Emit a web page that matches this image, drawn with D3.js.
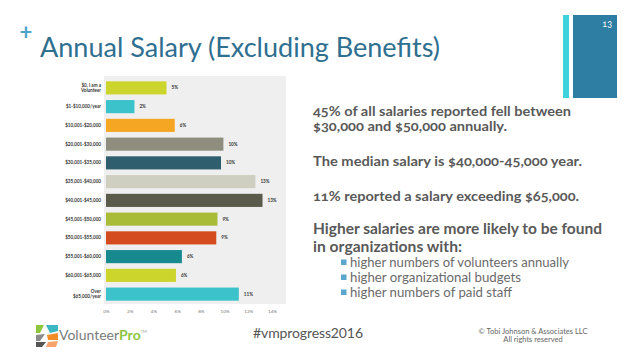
<!DOCTYPE html>
<html>
<head>
<meta charset="utf-8">
<script src="https://cdn.jsdelivr.net/npm/d3@7/dist/d3.min.js"></script>
<style>
  body { margin: 0; background: #fff; }
  svg { display: block; font-family: Lato, "Open Sans", sans-serif; }
  .onum { font-variant-numeric: oldstyle-nums; }
</style>
</head>
<body>
<div id="slide"></div>
<script>
// salary bands, top to bottom
var categories = [
  ["$0, I am a", "Volunteer"],
  ["$1-$10,000/year"],
  ["$10,001-$20,000"],
  ["$20,001-$30,000"],
  ["$30,001-$35,000"],
  ["$35,001-$40,000"],
  ["$40,001-$45,000"],
  ["$45,001-$50,000"],
  ["$50,001-$55,000"],
  ["$55,001-$60,000"],
  ["$60,001-$65,000"],
  ["Over", "$65,000/year"]
];
// percent of respondents
var shares = [5.1, 2.4, 5.8, 9.9, 9.7, 12.6, 13.2, 9.4, 9.3, 6.4, 5.9, 11.2];
var barColors = ["#ccd52c", "#3cc2ca", "#f5a623", "#8e8d7e", "#2f5f6e", "#cfcfc1",
                 "#5b5b4b", "#a8bc37", "#d44b1f", "#178a90", "#ccd52c", "#3cc2ca"];
var tickValues = [0, 2, 4, 6, 8, 10, 12, 14];

var title = "Annual Salary (Excluding Benefits)";
var notes = [
  "45% of all salaries reported fell between",
  "$30,000 and $50,000 annually.",
  "The median salary is $40,000-45,000 year.",
  "11% reported a salary exceeding $65,000."
];
var findings = ["Higher salaries are more likely to be found", "in organizations with:"];
var bullets = ["higher numbers of volunteers annually", "higher organizational budgets", "higher numbers of paid staff"];

// text layout (baseline y and measured width in the slide)
var noteY = [116, 131, 166, 201], noteW = [258, 194, 269, 266];
var findY = [233.5, 251.5], findW = [289, 149];
var bulletY = [267, 282, 297], bulletW = [219, 171, 162];

var W = 638, H = 359;
var svg = d3.select("#slide").append("svg")
  .attr("width", W)
  .attr("height", H);

svg.append("rect").attr("width", W).attr("height", H).attr("fill", "#fff");

// header
svg.append("text")
  .attr("x", 26).attr("y", 40)
  .attr("text-anchor", "middle")
  .attr("font-size", 22).attr("font-weight", 700)
  .attr("fill", "#4da3cc")
  .text("+");

svg.append("text")
  .attr("x", 40).attr("y", 57)
  .attr("font-size", 26)
  .attr("fill", "#2f6f90")
  .attr("textLength", 400).attr("lengthAdjust", "spacingAndGlyphs")
  .text(title);

svg.append("rect").attr("x", 563).attr("y", 15).attr("width", 6).attr("height", 83).attr("fill", "#3ed3dc");
svg.append("rect").attr("x", 573).attr("y", 15).attr("width", 44).attr("height", 83).attr("fill", "#2e7da2");
svg.append("text")
  .attr("x", 612).attr("y", 27)
  .attr("text-anchor", "end")
  .attr("font-size", 9)
  .attr("fill", "#fff")
  .attr("class", "onum")
  .text("13");

// chart
var panel = { x: 104, y: 76, w: 182, h: 228 };
svg.append("rect")
  .attr("x", panel.x).attr("y", panel.y)
  .attr("width", panel.w).attr("height", panel.h)
  .attr("fill", "#efefef");

var x = d3.scaleLinear().domain([0, 14]).range([106, 272]);
var y = d3.scaleBand()
  .domain(d3.range(categories.length))
  .range([78.5, 303.5])
  .paddingInner(0.3)
  .paddingOuter(0.15);

var g = svg.append("g");

g.selectAll("rect.bar")
  .data(shares)
  .enter()
  .append("rect")
    .attr("class", "bar")
    .attr("x", x(0))
    .attr("y", function(d, i) { return y(i); })
    .attr("width", function(d) { return x(d) - x(0); })
    .attr("height", y.bandwidth())
    .attr("fill", function(d, i) { return barColors[i]; });

g.selectAll("text.val")
  .data(shares)
  .enter()
  .append("text")
    .attr("class", "val")
    .attr("x", function(d) { return x(d) + 5; })
    .attr("y", function(d, i) { return y(i) + y.bandwidth() / 2 + 1.6; })
    .attr("font-size", 4.6).attr("font-weight", 700)
    .attr("fill", "#333")
    .text(function(d) { return Math.round(d) + "%"; });

var cat = g.selectAll("text.cat")
  .data(categories)
  .enter()
  .append("text")
    .attr("class", "cat")
    .attr("x", 101)
    .attr("y", function(d, i) { return y(i) + y.bandwidth() / 2 + 1.6 - (d.length - 1) * 2.7; })
    .attr("text-anchor", "end")
    .attr("font-size", 4.6).attr("font-weight", 700)
    .attr("fill", "#333");
cat.selectAll("tspan")
  .data(function(d) { return d; })
  .enter()
  .append("tspan")
    .attr("x", 101)
    .attr("dy", function(d, i) { return i ? 5.4 : 0; })
    .text(function(d) { return d; });

var axis = d3.axisBottom(x)
  .tickValues(tickValues)
  .tickSize(0)
  .tickPadding(0)
  .tickFormat(function(d) { return d + "%"; });
var ax = svg.append("g")
  .attr("transform", "translate(0,310)")
  .call(axis);
ax.select(".domain").remove();
ax.selectAll("text")
  .attr("font-size", 4.6)
  .attr("font-family", "Lato, sans-serif")
  .attr("fill", "#777");

// notes on the right
svg.selectAll("text.note")
  .data(notes)
  .enter()
  .append("text")
    .attr("class", "note onum")
    .attr("x", 313)
    .attr("y", function(d, i) { return noteY[i]; })
    .attr("font-size", 12.5).attr("font-weight", 700)
    .attr("fill", "#595959")
    .attr("textLength", function(d, i) { return noteW[i]; })
    .attr("lengthAdjust", "spacingAndGlyphs")
    .text(function(d) { return d; });

svg.selectAll("text.find")
  .data(findings)
  .enter()
  .append("text")
    .attr("class", "find")
    .attr("x", 313)
    .attr("y", function(d, i) { return findY[i]; })
    .attr("font-size", 14.5).attr("font-weight", 700)
    .attr("fill", "#595959")
    .attr("textLength", function(d, i) { return findW[i]; })
    .attr("lengthAdjust", "spacingAndGlyphs")
    .text(function(d) { return d; });

var bl = svg.selectAll("g.bullet")
  .data(bullets)
  .enter()
  .append("g")
    .attr("class", "bullet")
    .attr("transform", function(d, i) { return "translate(0," + bulletY[i] + ")"; });
bl.append("rect")
  .attr("x", 341).attr("y", -7.5)
  .attr("width", 5.5).attr("height", 5.5)
  .attr("fill", "#5aa6cc");
bl.append("text")
  .attr("x", 350)
  .attr("font-size", 12.5)
  .attr("fill", "#6b6b6b")
  .attr("textLength", function(d, i) { return bulletW[i]; })
  .attr("lengthAdjust", "spacingAndGlyphs")
  .text(function(d) { return d; });

// footer
svg.append("text")
  .attr("x", 253).attr("y", 338)
  .attr("font-size", 14)
  .attr("fill", "#555")
  .attr("textLength", 110).attr("lengthAdjust", "spacing")
  .text("#vmprogress2016");

svg.append("text")
  .attr("x", 533).attr("y", 334)
  .attr("text-anchor", "middle")
  .attr("font-size", 7.5)
  .attr("fill", "#666")
  .text("\u00a9 Tobi Johnson & Associates LLC");
svg.append("text")
  .attr("x", 533).attr("y", 342)
  .attr("text-anchor", "middle")
  .attr("font-size", 7.5)
  .attr("fill", "#666")
  .text("All rights reserved");

// VolunteerPro logo
var logo = svg.append("g").attr("transform", "translate(36,325)");
logo.append("path").attr("d", "M0,0 L8,0 L4,8 L0,8 Z").attr("fill", "#8dc63f");
logo.append("path").attr("d", "M10,0 L22,0 L22,6 L14,8 Z").attr("fill", "#3ab6c4");
logo.append("path").attr("d", "M0,10 L9,9 L4,16 L0,16 Z").attr("fill", "#8a8a8a");
logo.append("path").attr("d", "M11,10 L22,8 L22,15 L12,15 Z").attr("fill", "#f28c28");
logo.append("path").attr("d", "M0,17 L10,17 L6,22 L0,22 Z").attr("fill", "#555");
logo.append("path").attr("d", "M12,17 L22,16 L20,22 L10,22 Z").attr("fill", "#f5a36b");

var brand = svg.append("text")
  .attr("x", 59).attr("y", 340)
  .attr("font-size", 14);
brand.append("tspan").attr("fill", "#7b7b7b").text("Volunteer");
brand.append("tspan").attr("fill", "#8dc63f").attr("font-weight", 700).text("Pro");
brand.append("tspan").attr("fill", "#999").attr("font-size", 4).attr("dy", -7).text("TM");
</script>
</body>
</html>
